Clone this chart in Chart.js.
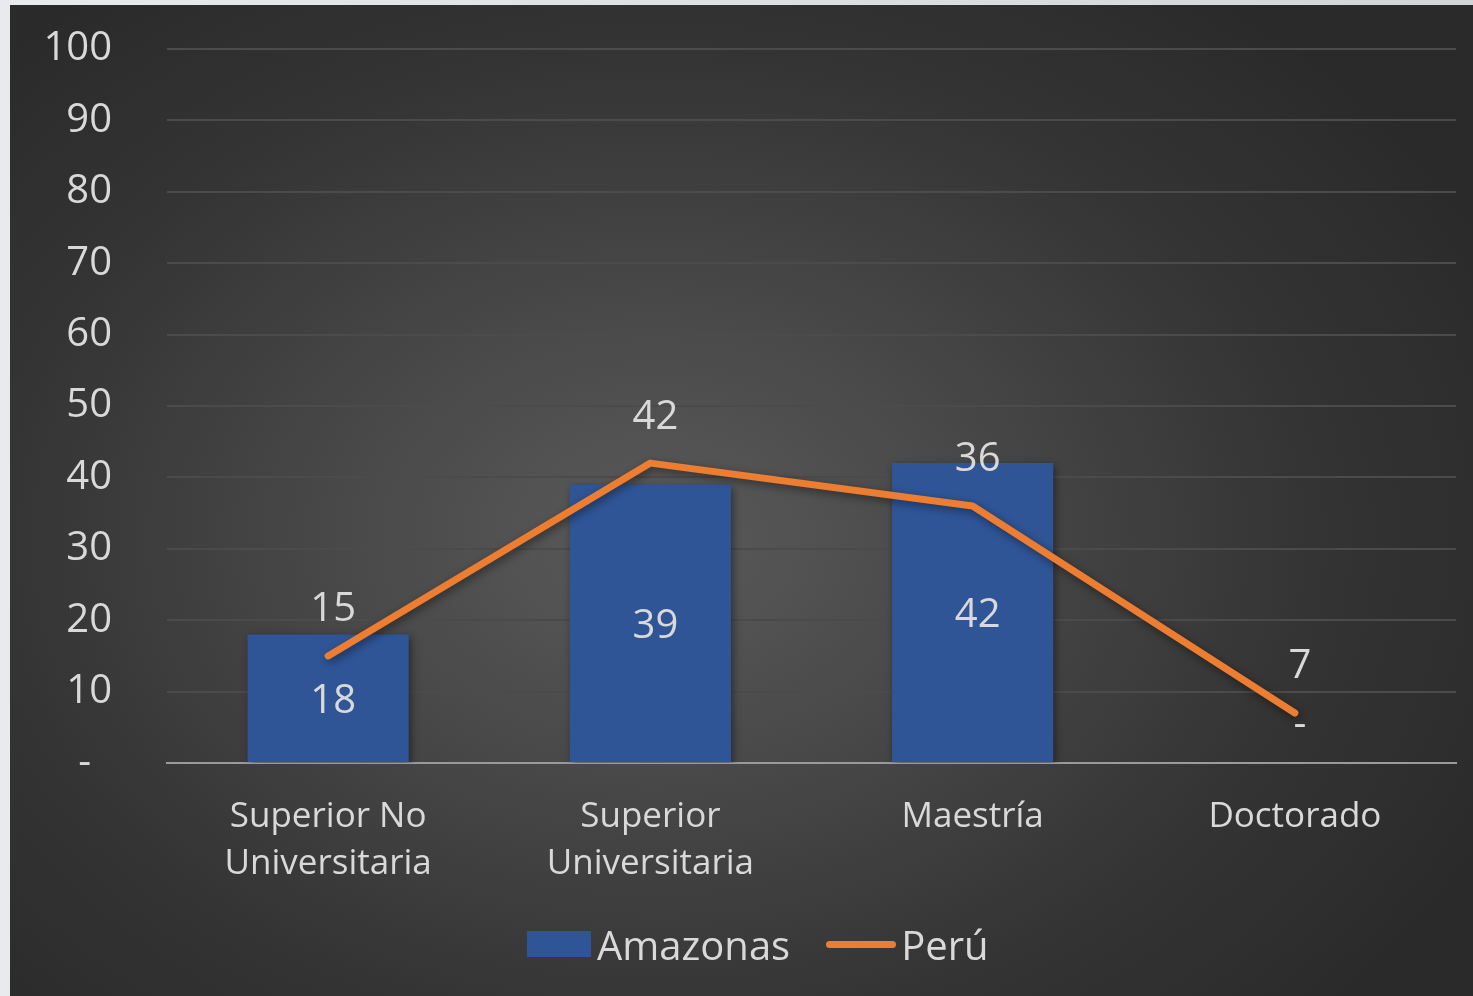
<!DOCTYPE html>
<html>
<head>
<meta charset="utf-8">
<script src="https://cdn.jsdelivr.net/npm/chart.js@4.4.1/dist/chart.umd.min.js"></script>
<style>
  html, body { margin: 0; padding: 0; }
  body {
    width: 1473px; height: 996px; overflow: hidden; position: relative;
    background: linear-gradient(90deg, #e9eaed 0%, #d3d4d8 100%);
    font-family: "Open Sans", "Noto Sans", sans-serif;
  }
  #panel {
    position: absolute; left: 10px; top: 5px; width: 1463px; height: 991px;
    background: radial-gradient(ellipse 64% 70% at 44% 54%, #5a5a5a 0%, #484848 35%, #343434 70%, #2a2a2a 100%);
  }
  #chart-wrap { position: absolute; left: 0; top: 0; width: 1463px; height: 991px; }
  #legend {
    position: absolute; left: 517px; top: 912px; height: 54px;
    display: flex; align-items: center; color: #d9d9d9; font-size: 40px;
  }
  .lg-box { width: 64px; height: 26px; background: #2f5597; margin-right: 6px; }
  .lg-line { width: 70px; height: 7px; border-radius: 4px; background: #ed7d31; margin-left: 36px; margin-right: 5px; }
</style>
</head>
<body>
<div id="panel">
  <div id="chart-wrap"><canvas id="c"></canvas></div>
  <div id="legend">
    <div class="lg-box"></div><span>Amazonas</span>
    <div class="lg-line"></div><span>Perú</span>
  </div>
</div>
<script>
const categories = [["Superior No", "Universitaria"], ["Superior", "Universitaria"], "Maestría", "Doctorado"];
const amazonas = [18, 39, 42, 0];
const peru = [15, 42, 36, 7];
const yMin = 0, yMax = 100, yStep = 10;

const textColor = "#d9d9d9";
const fontFamily = '"Open Sans", "Noto Sans", sans-serif';

const fmt = (v) => v === 0 ? "-" : String(v);

// sombra para barras y línea
const shadowPlugin = {
  id: "shadow",
  beforeDatasetDraw(chart) {
    const ctx = chart.ctx;
    ctx.save();
    ctx.shadowColor = "rgba(0,0,0,0.45)";
    ctx.shadowBlur = 8;
    ctx.shadowOffsetX = 2;
    ctx.shadowOffsetY = 3;
  },
  afterDatasetDraw(chart) {
    chart.ctx.restore();
  }
};

// etiquetas de datos
const labelPlugin = {
  id: "labels",
  afterDatasetsDraw(chart) {
    const ctx = chart.ctx;
    ctx.save();
    ctx.fillStyle = textColor;
    ctx.font = "40px " + fontFamily;
    ctx.textAlign = "center";
    ctx.textBaseline = "middle";
    chart.data.datasets.forEach((ds, i) => {
      const meta = chart.getDatasetMeta(i);
      meta.data.forEach((el, j) => {
        const v = ds.data[j];
        let y;
        if (ds.type === "bar") {
          y = v === 0 ? el.base - 38 : (el.y + el.base) / 2 + 3;
        } else {
          y = el.y - 46;
        }
        ctx.fillText(fmt(v), el.x + 5, y);
      });
    });
    ctx.restore();
  }
};

new Chart(document.getElementById("c"), {
  data: {
    labels: categories,
    datasets: [
      {
        type: "line",
        label: "Perú",
        data: peru,
        borderColor: "#ed7d31",
        backgroundColor: "#ed7d31",
        borderWidth: 7,
        borderCapStyle: "round",
        borderJoinStyle: "round",
        pointRadius: 0,
        tension: 0,
        order: 0
      },
      {
        type: "bar",
        label: "Amazonas",
        data: amazonas,
        backgroundColor: "#2f5597",
        barPercentage: 0.5,
        categoryPercentage: 1,
        order: 1
      }
    ]
  },
  options: {
    responsive: true,
    maintainAspectRatio: false,
    animation: false,
    layout: { padding: { top: 44, right: 17, left: 0, bottom: 0 } },
    plugins: { legend: { display: false }, tooltip: { enabled: false } },
    scales: {
      x: {
        grid: { display: false, drawTicks: false },
        border: { display: true, color: "#9a9a9a", width: 2 },
        ticks: {
          color: textColor,
          font: { size: 35, family: fontFamily, lineHeight: 1.36 },
          padding: 30,
          maxRotation: 0,
          autoSkip: false
        },
        afterFit(scale) { scale.height = 233; }
      },
      y: {
        min: yMin,
        max: yMax,
        grid: { color: "#4b4b4b", lineWidth: 2, drawTicks: false },
        border: { display: false },
        ticks: {
          stepSize: yStep,
          color: textColor,
          font: { size: 40, family: fontFamily },
          padding: 55,
          callback: (v) => v === 0 ? "-  " : String(v)
        },
        afterFit(scale) {
          scale.width = 157;
          scale.paddingTop = 0;
          scale.paddingBottom = 0;
        }
      }
    }
  },
  plugins: [shadowPlugin, labelPlugin]
});
</script>
</body>
</html>
